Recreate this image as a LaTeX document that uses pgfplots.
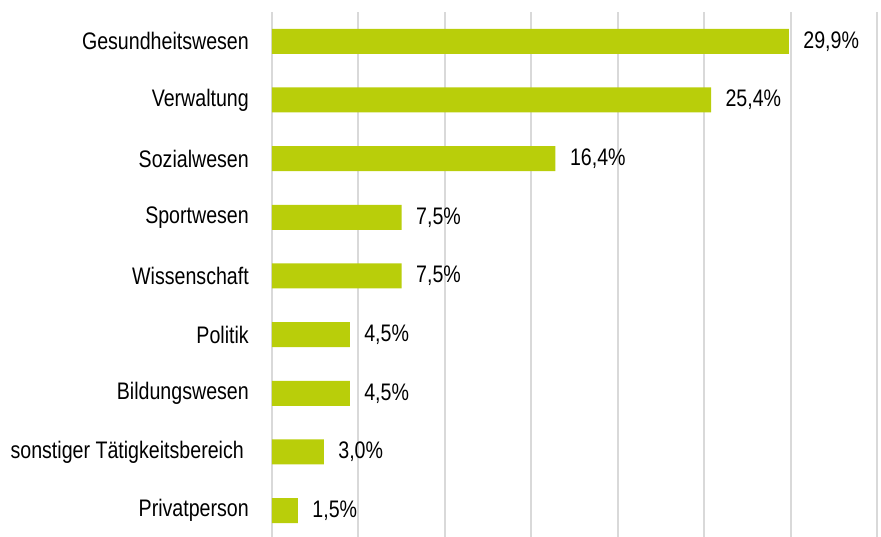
\documentclass[border=0pt]{standalone}
\usepackage{fontspec}
\setmainfont{Liberation Sans}[FakeStretch=0.82]
\usepackage{pgfplots}
\pgfplotsset{compat=1.18}
\definecolor{barg}{RGB}{185,206,10}
\definecolor{gridg}{RGB}{217,217,217}
\begin{document}
\begin{tikzpicture}
\begin{axis}[
  name=ax, at={(0,0)}, anchor=south west,
  scale only axis, width=605bp, height=525bp,
  xbar, bar width=25bp, bar shift=0pt,
  xmin=0, xmax=35, xtick={0,5,...,35}, xticklabels={},
  ymin=-0.5, ymax=8.45, y dir=reverse,
  ytick={0,...,8},
  yticklabels={Gesundheitswesen,Verwaltung,Sozialwesen,Sportwesen,Wissenschaft,Politik,Bildungswesen,{sonstiger Tätigkeitsbereich\kern5bp},Privatperson},
  yticklabel style={anchor=east, font=\fontsize{24}{28}\selectfont, text=black},
  major tick length=0pt,
  axis line style={draw=none},
  xmajorgrids, major grid style={gridg, line width=2bp},
  ymajorgrids=false,
  tick label style={inner xsep=0pt},
  yticklabel shift=23bp,
  /pgf/number format/assume math mode=true,
  nodes near coords={\pgfmathprintnumber[fixed,fixed zerofill,precision=1,use comma]{\pgfplotspointmeta}\%},
  nodes near coords style={anchor=west, xshift=11bp, font=\fontsize{24}{28}\selectfont, text=black},
  point meta=x,
  clip=false,
]
\addplot[fill=barg, draw=none] coordinates {
(29.9,0) (25.4,1) (16.4,2) (7.5,3) (7.5,4) (4.5,5) (4.5,6) (3.0,7) (1.5,8)};
\end{axis}
\pgfresetboundingbox
\path (ax.south west) ++(-272bp,0) rectangle ++(881bp,537bp);
\end{tikzpicture}
\end{document}
